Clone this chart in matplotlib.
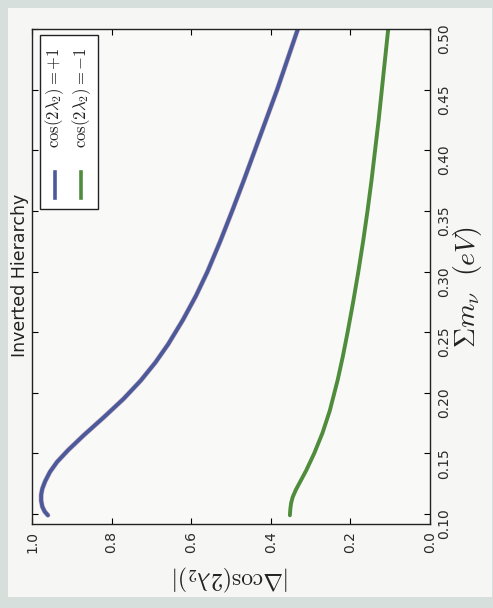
import matplotlib
matplotlib.use("Agg")
import matplotlib.pyplot as plt
from matplotlib.patches import Rectangle
from matplotlib.lines import Line2D

plt.rcParams['mathtext.fontset'] = 'cm'
plt.rcParams['font.family'] = 'DejaVu Sans'

# sum of neutrino masses (eV) and |delta cos(2 lambda_2)| for the two signs
sum_mnu_plus = [0.0990, 0.1020, 0.1060, 0.1110, 0.1160, 0.1210, 0.1270, 0.1347,
                0.1430, 0.1528, 0.1650, 0.1800, 0.1950, 0.2100, 0.2250, 0.2400,
                0.2600, 0.2800, 0.3000, 0.3250, 0.3500, 0.3750, 0.4000, 0.4250,
                0.4500, 0.4750, 0.5000]
dcos_plus = [0.960, 0.968, 0.974, 0.977, 0.977, 0.974, 0.967, 0.955,
             0.937, 0.909, 0.870, 0.819, 0.770, 0.727, 0.690, 0.658,
             0.621, 0.588, 0.559, 0.527, 0.497, 0.468, 0.440, 0.412,
             0.384, 0.358, 0.332]

sum_mnu_minus = [0.0990, 0.1040, 0.1090, 0.1140, 0.1200, 0.1280, 0.1360, 0.1500,
                 0.1670, 0.1850, 0.2105, 0.2300, 0.2500, 0.2750, 0.3000, 0.3250,
                 0.3500, 0.3750, 0.4000, 0.4250, 0.4500, 0.4750, 0.5000]
dcos_minus = [0.352, 0.351, 0.349, 0.345, 0.337, 0.324, 0.311, 0.291,
              0.270, 0.252, 0.232, 0.219, 0.207, 0.193, 0.180, 0.168,
              0.157, 0.147, 0.138, 0.129, 0.121, 0.113, 0.105]

dcos_ticks = [0.0, 0.2, 0.4, 0.6, 0.8, 1.0]
mnu_ticks = [0.10, 0.15, 0.20, 0.25, 0.30, 0.35, 0.40, 0.45, 0.50]
legend_labels = [r'$\cos(2\lambda_2) = +1$', r'$\cos(2\lambda_2) = -1$']
blue = '#4b5a9a'
green = '#4f8c3c'

fig = plt.figure(figsize=(4.93, 6.08), dpi=100, facecolor='#d6dfdb')
fig.add_artist(Rectangle((8 / 493, 11 / 608), 484 / 493, 589 / 608,
                         transform=fig.transFigure, facecolor='#f6f6f4',
                         edgecolor='none', zorder=-10))

# page is turned on its side: sum of masses runs up the right edge
ax = fig.add_axes([32 / 493, 84 / 608, 398 / 493, 495 / 608])
ax.set_facecolor('#f9f9f8')

ax.plot(dcos_plus, sum_mnu_plus, color='#b0708f', lw=3.6, alpha=0.5,
        solid_capstyle='round')
ax.plot(dcos_plus, sum_mnu_plus, color=blue, lw=2.8, solid_capstyle='round')
ax.plot(dcos_minus, sum_mnu_minus, color=green, lw=2.8, solid_capstyle='round')

ax.set_xlim(1.0, 0.0)
ax.set_ylim(0.0918, 0.50)
ax.set_xticks(dcos_ticks)
ax.set_xticklabels(['%.1f' % v for v in dcos_ticks])
ax.set_yticks(mnu_ticks)
ax.set_yticklabels(['%.2f' % v for v in mnu_ticks])

ax.tick_params(direction='in', length=4, width=0.8, top=True, bottom=True,
               left=True, right=True, labelleft=False, labelright=True,
               labelsize=10, labelrotation=90, labelcolor='#2a2a2a', pad=5)
for sp in ax.spines.values():
    sp.set_linewidth(1.0)
    sp.set_color('#222222')

# hand-built legend so its text can be turned with the page
ax.add_patch(Rectangle((0.020, 0.636), 0.146, 0.352, transform=ax.transAxes,
                       facecolor='white', edgecolor='#222222', lw=1.0, zorder=5))
for i, (lab, col) in enumerate(zip(legend_labels, [blue, green])):
    xx = 0.058 + i * 0.066
    ax.add_line(Line2D([xx, xx], [0.659, 0.711], transform=ax.transAxes,
                       color=col, lw=2.6, zorder=6))
    ax.text(xx, 0.862, lab, transform=ax.transAxes, rotation=90,
            ha='center', va='center', fontsize=12, color='#222222', zorder=6)

fig.text(20 / 493, 1 - 275 / 608, 'Inverted Hierarchy', rotation=90,
         ha='center', va='center', fontsize=12.5, color='#222222')
fig.text(231 / 493, 1 - 578 / 608, r'$|\Delta\cos(2\lambda_2)|$', rotation=180,
         ha='center', va='center', fontsize=17, color='#222222')
fig.text(467 / 493, 1 - 287 / 608, r'$\Sigma m_\nu\ \ (eV)$', rotation=90,
         ha='center', va='center', fontsize=20, color='#222222')

fig.savefig('out.png', dpi=100, facecolor=fig.get_facecolor())
